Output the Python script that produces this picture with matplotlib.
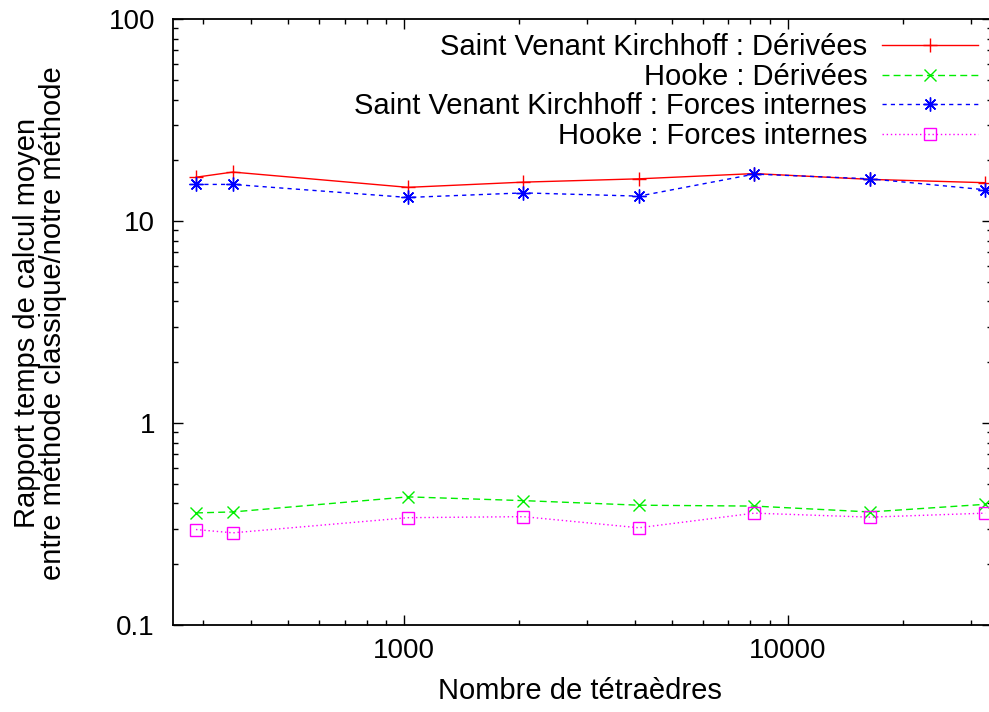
import matplotlib
matplotlib.use("Agg")
import matplotlib.pyplot as plt
from matplotlib.ticker import LogLocator, FuncFormatter, NullFormatter

# nombre de tetraedres
nb_tetra = [287, 358, 1024, 2048, 4096, 8192, 16384, 32768]

# rapports de temps
svk_derivees = [16.5, 17.5, 14.7, 15.6, 16.2, 17.2, 16.1, 15.5]
hooke_derivees = [0.359, 0.363, 0.431, 0.413, 0.392, 0.388, 0.363, 0.396]
svk_forces = [15.2, 15.2, 13.1, 13.8, 13.3, 17.1, 16.2, 14.3]
hooke_forces = [0.297, 0.286, 0.340, 0.344, 0.303, 0.358, 0.342, 0.358]

labels = ["Saint Venant Kirchhoff : Dérivées",
          "Hooke : Dérivées",
          "Saint Venant Kirchhoff : Forces internes",
          "Hooke : Forces internes"]

plt.rcParams['font.family'] = ['Liberation Sans', 'DejaVu Sans']

fig = plt.figure(figsize=(9.89, 7.12), dpi=100)
W, H = 989.0, 712.0
ax = fig.add_axes([173 / W, (H - 625) / H, (992 - 173) / W, (625 - 19.2) / H])

ax.plot(nb_tetra, svk_derivees, color='#ff0000', lw=1, ls='-',
        marker='+', ms=10, mew=1, label=labels[0])
ax.plot(nb_tetra, hooke_derivees, color='#00ee00', lw=1, ls=(0, (5, 3)),
        marker='x', ms=8, mew=1, label=labels[1])
ax.plot(nb_tetra, svk_forces, color='#0000ff', lw=1, ls=(0, (3, 3)),
        marker=(8, 2, 0), ms=10, mew=1, label=labels[2])
ax.plot(nb_tetra, hooke_forces, color='#ff00ff', lw=1, ls=(0, (1, 2)),
        marker='s', ms=8, mew=1, mfc='none', label=labels[3])

ax.set_xscale('log')
ax.set_yscale('log')
ax.set_xlim(250, 34100)
ax.set_ylim(0.1, 100)

ax.xaxis.set_major_locator(LogLocator(base=10))
ax.xaxis.set_minor_locator(LogLocator(base=10, subs=range(2, 10)))
ax.xaxis.set_major_formatter(FuncFormatter(lambda v, p: '%d' % v))
ax.xaxis.set_minor_formatter(NullFormatter())
ax.yaxis.set_major_locator(LogLocator(base=10))
ax.yaxis.set_minor_locator(LogLocator(base=10, subs=range(2, 10)))
ax.yaxis.set_major_formatter(FuncFormatter(lambda v, p: ('%g' % v)))
ax.yaxis.set_minor_formatter(NullFormatter())

ax.tick_params(which='both', direction='in', top=True, right=True, width=1, labelsize=20)
ax.tick_params(which='major', length=7)
ax.tick_params(which='minor', length=3.6)
ax.tick_params(axis='y', pad=13)
ax.tick_params(axis='x', pad=9)
for s in ax.spines.values():
    s.set_linewidth(1.3)

fig.text(40 / W, (H - 323) / H,
         "Rapport temps de calcul moyen\nentre méthode classique/notre méthode",
         rotation=90, ha='center', va='center', fontsize=21, linespacing=0.95)
fig.text(580 / W, (H - 691) / H, "Nombre de tétraèdres",
         ha='center', va='center', fontsize=21)

ax.legend(loc='upper right', bbox_to_anchor=(978 / W, (H - 33) / H),
          bbox_transform=fig.transFigure, frameon=False, markerfirst=False,
          fontsize=21, handlelength=3.3, handletextpad=0.5,
          labelspacing=0.06, borderpad=0, borderaxespad=0)

fig.savefig('out.png', dpi=100)
